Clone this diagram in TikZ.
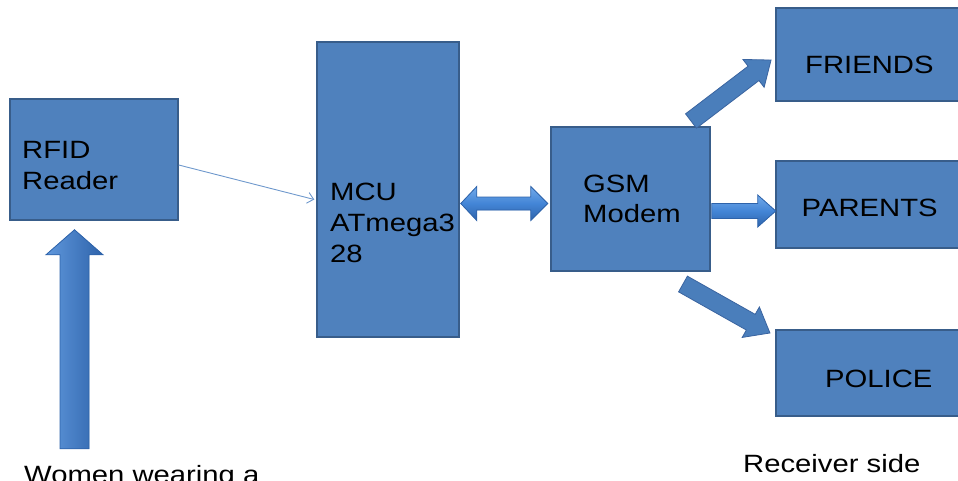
\documentclass[tikz,border=0pt]{standalone}
\usepackage{fontspec}
\setmainfont[FakeStretch=1.17]{Liberation Sans}
\usetikzlibrary{calc,arrows.meta}
\definecolor{boxfill}{HTML}{4F81BD}
\definecolor{boxline}{HTML}{385D8A}
\definecolor{arrfill}{HTML}{4A7EBB}
\definecolor{arrline}{HTML}{3A64A0}
\definecolor{arrlight}{HTML}{72AAEA}
\definecolor{arrmid}{HTML}{4385D6}
\definecolor{arrdark}{HTML}{2E63AA}
\definecolor{thinline}{HTML}{6E98CC}
% block arrow along +x: length, shaft half width, head half width, head length
\newcommand\blkarrow[5][]{%
  \path[blockarrow,#1] (0,-#3) -- ({#2-#5},-#3) -- ({#2-#5},-#4) -- (#2,0)
    -- ({#2-#5},#4) -- ({#2-#5},#3) -- (0,#3) -- cycle;}
\tikzset{
  box/.style={draw=boxline, fill=boxfill, line width=1.5pt, rectangle, inner sep=0pt},
  lbl/.style={font=\fontsize{25}{31}\selectfont, text=black, inner sep=0pt, anchor=base west},
  blockarrow/.style={fill=arrfill, draw=arrline, line width=0.8pt, line join=miter},
  thinarrow/.style={draw=thinline, line width=0.9pt, -{Straight Barb[length=6pt,width=11pt]}},
}
\begin{document}
\begin{tikzpicture}[x=1pt,y=-1pt]
\useasboundingbox (0,0) rectangle (958,480);
% boxes
\node[box, minimum width=168pt, minimum height=121pt] (rfid) at (94,159.5) {};
\node[box, minimum width=142pt, minimum height=295pt] (mcu) at (388,189.5) {};
\node[box, minimum width=159pt, minimum height=144pt] (gsm) at (630.5,199) {};
\node[box, minimum width=190pt, minimum height=93pt] (friends) at (871,54.5) {};
\node[box, minimum width=190pt, minimum height=87pt] (parents) at (871,204.5) {};
\node[box, minimum width=190pt, minimum height=86pt] (police) at (871,373) {};
% labels
\node[lbl] (t1) at (22,158) {RFID};
\node[lbl] (t2) at (22,189) {Reader};
\node[lbl] (t3) at (330,200) {MCU};
\node[lbl] (t4) at (330,231.5) {ATmega3};
\node[lbl] (t5) at (330,262) {28};
\node[lbl] (t6) at (583,192) {GSM};
\node[lbl] (t7) at (583,222) {Modem};
\node[lbl] (t8) at (805,73) {FRIENDS};
\node[lbl] (t9) at (801.5,216.5) {PARENTS};
\node[lbl] (t10) at (825,387) {POLICE};
\node[lbl] (t11) at (743,472) {Receiver side};
\node[lbl] (t12) at (24,483) {Women wearing a};
% thin arrow RFID -> MCU
\coordinate (rout) at ([yshift=-5.5pt]rfid.east);
\coordinate (min) at ([yshift=-10pt,xshift=-2pt]mcu.west);
\draw[thinarrow] (rout) -- (min);
% up arrow into RFID
\coordinate (upt) at ($(rfid.south)+(-19.5,9)$);
\begin{scope}[shift={(upt)}]
  \path[blockarrow, left color=arrmid!85!white, right color=arrdark, draw=arrdark]
    (0,0) -- (28.5,25) -- (14.5,25) -- (14.5,219) -- (-14.5,219) -- (-14.5,25) -- (-28.5,25) -- cycle;
\end{scope}
% double arrow MCU <-> GSM
\coordinate (dl) at ($(mcu.east)+(1,14)$);
\begin{scope}[shift={(dl)}]
  \path[blockarrow, top color=arrlight, bottom color=arrdark, middle color=arrmid, draw=arrdark]
    (0,0) -- (16,-17) -- (16,-6.5) -- (70,-6.5) -- (70,-17) -- (87,0)
    -- (70,17) -- (70,6.5) -- (16,6.5) -- (16,17) -- cycle;
\end{scope}
% GSM -> PARENTS
\coordinate (pt) at ($(gsm.east)+(1,12)$);
\begin{scope}[shift={(pt)}]
  \blkarrow[top color=arrlight, bottom color=arrdark, middle color=arrmid, draw=arrdark]{64}{7.5}{16}{18}
\end{scope}
% GSM -> FRIENDS
\coordinate (ft) at (691,121);
\begin{scope}[shift={(ft)}, rotate=37.3]
  \blkarrow{100.6}{9}{17.5}{22}
\end{scope}
% GSM -> POLICE
\coordinate (pot) at (683,284);
\begin{scope}[shift={(pot)}, rotate=-29.4]
  \blkarrow{99.8}{9}{17.5}{22}
\end{scope}
\end{tikzpicture}
\end{document}
